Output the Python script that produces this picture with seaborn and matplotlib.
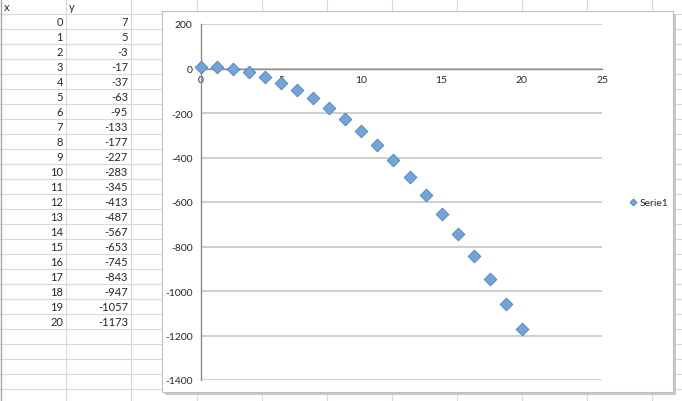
import numpy as np
import pandas as pd
import matplotlib
matplotlib.use('Agg')
import matplotlib.pyplot as plt
from matplotlib.patches import Rectangle
import seaborn as sns

# Data (as read from the sheet)
x_vals = [0, 1, 2, 3, 4, 5, 6, 7, 8, 9, 10, 11, 12, 13, 14, 15, 16, 17, 18, 19, 20]
y_vals = [7, 5, -3, -17, -37, -63, -95, -133, -177, -227, -283, -345, -413,
          -487, -567, -653, -745, -843, -947, -1057, -1173]
x_ticks = [0, 5, 10, 15, 20, 25]
y_ticks = [200, 0, -200, -400, -600, -800, -1000, -1200, -1400]
series_name = 'Serie1'

sns.set_style('white')
plt.rcParams['font.family'] = ['Lato', 'DejaVu Sans']
plt.rcParams['axes.unicode_minus'] = False

W, H = 682, 402
fig = plt.figure(figsize=(W / 100, H / 100), dpi=100)

# Spreadsheet background
bg = fig.add_axes([0, 0, 1, 1])
bg.set_xlim(0, W)
bg.set_ylim(H, 0)
bg.axis('off')

grid_col = '#d9d9d9'
for cx in [66, 131, 197, 262, 327, 392, 457, 522, 587, 652]:
    bg.plot([cx, cx], [0, H], color=grid_col, lw=0.8, zorder=1)
for ry in range(15, H, 15):
    bg.plot([0, W], [ry, ry], color=grid_col, lw=0.8, zorder=1)
bg.plot([0.5, 0.5], [0, H], color='#a6a6a6', lw=1.0, zorder=1)

bg.text(4, 7.5, 'x', ha='left', va='center', fontsize=8)
bg.text(69, 7.5, 'y', ha='left', va='center', fontsize=8)
for i, (xv, yv) in enumerate(zip(x_vals, y_vals)):
    ry = 22.5 + 15 * i
    bg.text(63, ry, str(xv), ha='right', va='center', fontsize=8)
    bg.text(128, ry, str(yv), ha='right', va='center', fontsize=8)

# Chart frame with shadow
bg.add_patch(Rectangle((165, 15), 511, 381, facecolor='#c8c8c8', edgecolor='none', zorder=2))
bg.add_patch(Rectangle((162, 12), 511, 381, facecolor='white', edgecolor='#bfbfbf', lw=0.8, zorder=3))

# Plot area
x0, x1 = 201, 602
y_top, y_bot = 25, 381
ax = fig.add_axes([x0 / W, (H - y_bot) / H, (x1 - x0) / W, (y_bot - y_top) / H], zorder=5)
ax.patch.set_alpha(0)

df = pd.DataFrame({'x': x_vals, 'y': y_vals})
sns.scatterplot(data=df, x='x', y='y', ax=ax, marker='D', s=42,
                color='#72a3d9', edgecolor='#4f81bd', linewidth=0.6,
                label=series_name, zorder=4, clip_on=False)

ax.set_xlim(0, 25)
ax.set_ylim(-1400, 200)
ax.set_xticks(x_ticks)
ax.set_yticks(y_ticks)
ax.set_xlabel('')
ax.set_ylabel('')
ax.yaxis.grid(True, color='#c6c6c6', lw=1.2)
ax.xaxis.grid(False)
ax.set_axisbelow(True)

for s in ['top', 'right']:
    ax.spines[s].set_visible(False)
ax.spines['bottom'].set_position(('data', 0))
ax.spines['bottom'].set_color('#8c8c8c')
ax.spines['left'].set_color('#8c8c8c')
ax.spines['bottom'].set_linewidth(1.0)
ax.spines['left'].set_linewidth(1.0)

ax.tick_params(axis='x', direction='inout', length=4, color='#8c8c8c', labelsize=7.5, pad=3)
ax.tick_params(axis='y', direction='out', length=4, color='#c6c6c6', labelsize=7.5, pad=2)

ax.legend(loc='center left', bbox_to_anchor=(624 / W, (H - 203) / H),
          bbox_transform=fig.transFigure, frameon=False, fontsize=7.5,
          handlelength=0.8, handletextpad=0.2, markerscale=0.55, borderpad=0)

fig.savefig('out.png', dpi=100)
